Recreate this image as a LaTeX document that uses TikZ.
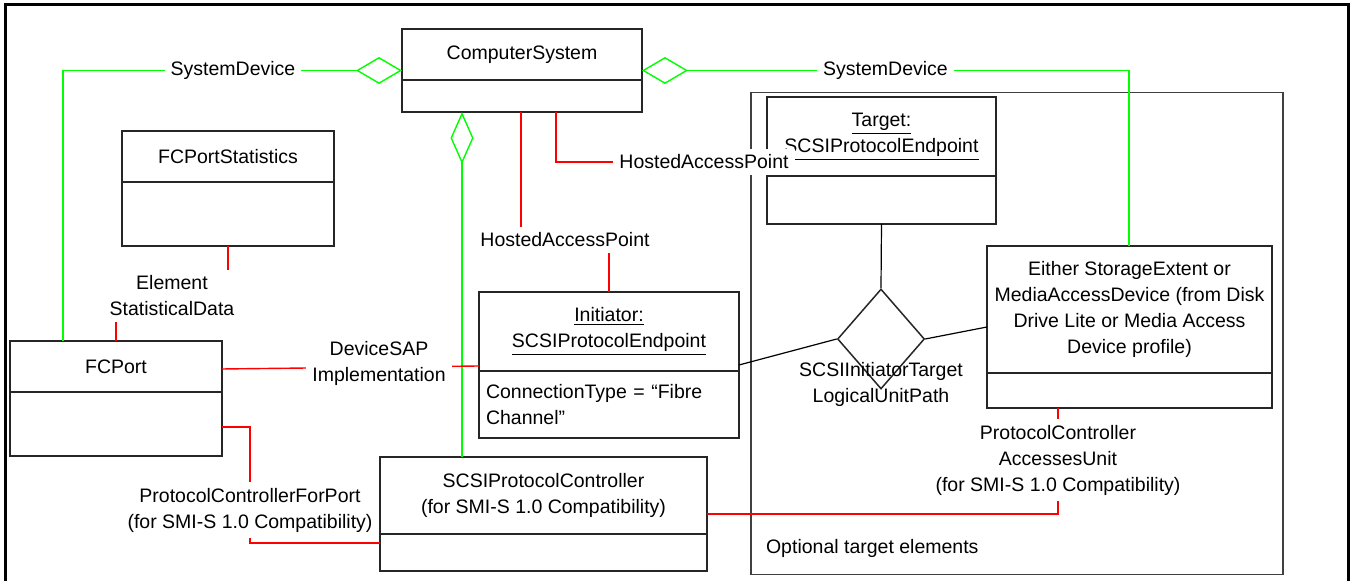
\documentclass[tikz,border=0pt]{standalone}
\usepackage{fontspec}
\setmainfont{Liberation Sans}
\usetikzlibrary{positioning, shapes.geometric, arrows.meta}

\begin{document}
\begin{tikzpicture}[x=0.5pt, y=-0.5pt]
		\tikzstyle{every node}=[font=\fontsize{9.75}{13}\selectfont]
		\tikzstyle{umlbox}=[draw=black!85, line width=0.75pt, inner sep=0pt, outer sep=0pt, align=center]
		\tikzstyle{assoc}=[red, line width=0.7pt]
		\tikzstyle{sysdev}=[green, line width=0.7pt]
		\tikzstyle{plain}=[black, line width=0.6pt]
		\tikzstyle{rotulo}=[fill=white, align=center, inner sep=3pt]
		
		\useasboundingbox (0,0) rectangle (1351,581);
		\draw[line width=1.5pt] (5.5,581) -- (5.5,5) -- (1348.5,5) -- (1348.5,581);
		
		%% Optional target elements
		\node[draw=black!75, line width=0.6pt, inner sep=0pt, minimum width=266pt, minimum height=241pt] (opt) at (1017,333.5) {};
		\node[anchor=west] (optlbl) at (759,548) {Optional target elements};
		
		%% Classes
		\node[umlbox, minimum width=120pt, minimum height=25.5pt] (cs) at (522,54.5) {ComputerSystem};
		\node[umlbox, minimum width=120pt, minimum height=16pt, below=0pt of cs] (cs-b) {};
		
		\node[umlbox, minimum width=106pt, minimum height=25.5pt] (fcstat) at (228,156.5) {FCPortStatistics};
		\node[umlbox, minimum width=106pt, minimum height=32pt, below=0pt of fcstat] (fcstat-b) {};
		
		\node[umlbox, minimum width=106pt, minimum height=25.5pt] (fcport) at (116,366.5) {FCPort};
		\node[umlbox, minimum width=106pt, minimum height=32pt, below=0pt of fcport] (fcport-b) {};
		
		\node[umlbox, minimum width=130pt, minimum height=39.5pt] (init) at (609,331.5)
		{\underline{Initiator:}\\\underline{SCSIProtocolEndpoint}};
		\node[umlbox, text width=123pt, inner xsep=3.5pt, align=left, minimum height=33.5pt, below=0pt of init] (init-b)
		{ConnectionType = “Fibre\\Channel”};
		
		\node[umlbox, minimum width=163.5pt, minimum height=38.5pt] (spc) at (543.5,495.5)
		{SCSIProtocolController\\(for SMI-S 1.0 Compatibility)};
		\node[umlbox, minimum width=163.5pt, minimum height=18.5pt, below=0pt of spc] (spc-b) {};
		
		\node[umlbox, minimum width=114.5pt, minimum height=39.5pt] (target) at (881.5,136.5)
		{\underline{Target:}\\\underline{SCSIProtocolEndpoint}};
		\node[umlbox, minimum width=114.5pt, minimum height=24pt, below=0pt of target] (target-b) {};
		
		\node[umlbox, minimum width=142.5pt, minimum height=63.5pt] (stor) at (1129.5,309.5)
		{Either StorageExtent or\\MediaAccessDevice (from Disk\\Drive Lite or Media Access\\Device profile)};
		\node[umlbox, minimum width=142.5pt, minimum height=17.5pt, below=0pt of stor] (stor-b) {};
		
		\node[diamond, draw=black!85, line width=0.75pt, inner sep=0pt, minimum width=43.5pt, minimum height=50pt] (lut) at (881,339) {};
		
		%% SystemDevice
		\draw[sysdev, {Diamond[open, length=23pt, width=13.5pt]}-] (cs.west |- 0,70.5) -- (63,70.5) -- (fcport.north -| 63,0);
		\draw[sysdev, {Diamond[open, length=23pt, width=13.5pt]}-] (cs.east |- 0,70.5) -| (stor.north -| 1129,0);
		\draw[sysdev, {Diamond[open, length=26pt, width=11.5pt]}-] (cs-b.south -| 462,0) -- (spc.north -| 462,0);
		
		%% Associations
		\draw[assoc] (cs-b.south -| 521,0) |- (565,240) -| (init.north);
		\draw[assoc] (cs-b.south -| 556,0) |- (target.west |- 0,162);
		\draw[assoc] (fcstat-b.south) |- (172,294) -| (fcport.north);
		\draw[assoc] (fcport.east |- 0,369) -- (init.west |- 0,366);
		\draw[assoc] (fcport-b.east |- 0,427) -| (250,543) -- (spc-b.west |- 0,543);
		\draw[assoc] (stor-b.south -| 1058,0) |- (spc.east |- 0,514);
		
		\draw[plain] (target-b.south) -- (lut.north);
		\draw[plain] (lut.west) -- (init.east |- 0,365);
		\draw[plain] (lut.east) -- (stor.west |- 0,327);
		
		%% Labels
		\node[rotulo] (sd1) at (233,70) {SystemDevice};
		\node[rotulo] (sd2) at (885.5,70) {SystemDevice};
		\node[rotulo] (hap1) at (565,240) {HostedAccessPoint};
		\node[rotulo] (hap2) at (704,162) {HostedAccessPoint};
		\node[rotulo] (esd) at (172,296) {Element\\StatisticalData};
		\node[rotulo] (dsap) at (379,363.5) {DeviceSAP\\Implementation};
		\node[rotulo] (pcfp) at (250,510) {ProtocolControllerForPort\\(for SMI-S 1.0 Compatibility)};
		\node[rotulo] (pcau) at (1058,460) {ProtocolController\\AccessesUnit\\(for SMI-S 1.0 Compatibility)};
		\node[align=center] (lup) at (881,384) {SCSIInitiatorTarget\\LogicalUnitPath};
		
	\end{tikzpicture}
\end{document}
